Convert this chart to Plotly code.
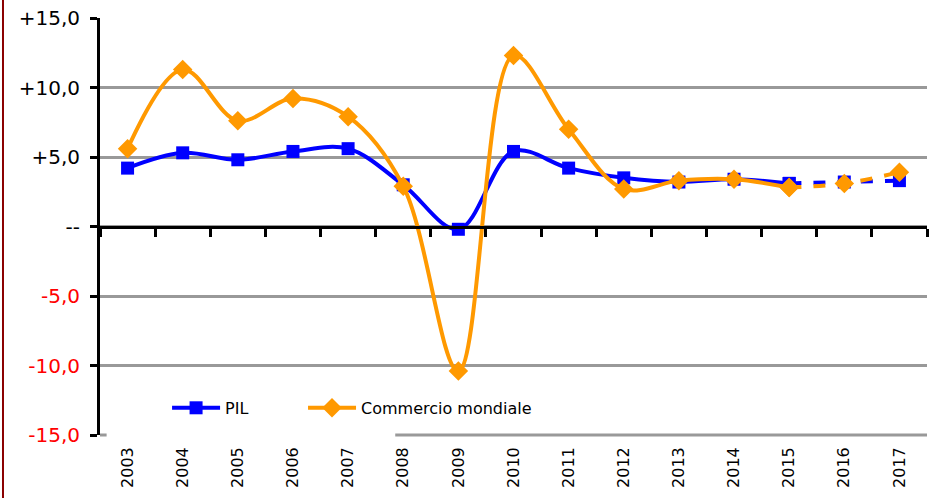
import plotly.graph_objects as go

years = ["2003", "2004", "2005", "2006", "2007", "2008", "2009", "2010",
         "2011", "2012", "2013", "2014", "2015", "2016", "2017"]
pil = [4.2, 5.3, 4.8, 5.4, 5.6, 3.0, -0.2, 5.4, 4.2, 3.5, 3.2, 3.4, 3.1, 3.2, 3.3]
commercio = [5.6, 11.3, 7.6, 9.2, 7.9, 2.9, -10.4, 12.3, 7.0, 2.7, 3.3, 3.4, 2.8, 3.1, 3.9]
ytick_vals = [15, 10, 5, 0, -5, -10, -15]
ytick_text = ["+15,0", "+10,0", "+5,0", "--",
              "<span style='color:#ff0000'>-5,0</span>",
              "<span style='color:#ff0000'>-10,0</span>",
              "<span style='color:#ff0000'>-15,0</span>"]
split = 12  # forecast (dashed) from 2015

BLUE = "#0000ff"
ORANGE = "#ff9900"
FONT = "DejaVu Sans"

fig = go.Figure()

def add_series(vals, name, color, symbol, legend, msize):
    fig.add_trace(go.Scatter(
        x=years[:split + 1], y=vals[:split + 1], name=name, mode="lines+markers",
        line=dict(color=color, width=4, shape="spline", smoothing=1.0),
        marker=dict(symbol=symbol, size=msize, color=color),
        showlegend=True, legend=legend))
    fig.add_trace(go.Scatter(
        x=years[split:], y=vals[split:], name=name, mode="lines+markers",
        line=dict(color=color, width=4, dash="dash", shape="spline", smoothing=1.0),
        marker=dict(symbol=symbol, size=msize, color=color),
        showlegend=False, legend=legend))

add_series(pil, "PIL", BLUE, "square", "legend", 13)
add_series(commercio, "Commercio mondiale", ORANGE, "diamond", "legend2", 15)

# zero-line axis with boundary ticks
fig.add_trace(go.Scatter(x=years, y=[None] * len(years), xaxis="x2",
                         showlegend=False, hoverinfo="skip"))

leg_common = dict(orientation="h", y=0.065, xanchor="left", yanchor="middle",
                  bgcolor="rgba(0,0,0,0)", font=dict(size=16, family=FONT),
                  itemwidth=48)

fig.update_layout(
    width=935, height=498,
    margin=dict(l=100, r=8, t=18, b=63, autoexpand=False),
    paper_bgcolor="white", plot_bgcolor="white",
    font=dict(family=FONT, size=16, color="black"),
    xaxis=dict(type="category", categoryorder="array", categoryarray=years,
               range=[-0.5, 14.5], showgrid=False, showline=False, automargin=False,
               ticks="", tickangle=-90, tickfont=dict(size=16, family=FONT),
               ticklabelstandoff=8, zeroline=False),
    xaxis2=dict(type="category", categoryorder="array", categoryarray=years,
                range=[-0.5, 14.5], overlaying="x", anchor="free", position=0.5,
                showline=True, linecolor="black", linewidth=3, automargin=False,
                ticks="outside", tickson="boundaries", ticklen=8, tickwidth=3,
                tickcolor="black", showticklabels=False, showgrid=False),
    yaxis=dict(range=[-15, 15], tickvals=ytick_vals, ticktext=ytick_text,
               showgrid=True, gridcolor="#999999", gridwidth=3, automargin=False,
               zeroline=False, showline=True, linecolor="black", linewidth=3,
               ticks="outside", ticklen=7, tickwidth=3, tickcolor="black",
               ticklabelstandoff=6, tickfont=dict(size=20, family=FONT)),
    legend=dict(x=0.0811, **leg_common),
    legend2=dict(x=0.2455, **leg_common),
    shapes=[
        # bottom gridline, partly hidden behind the legend box
        dict(type="line", xref="paper", yref="paper", x0=0.357, x1=1.0,
             y0=0, y1=0, line=dict(color="#999999", width=3), layer="above"),
        dict(type="line", xref="paper", yref="paper", x0=0.0, x1=0.008,
             y0=0, y1=0, line=dict(color="#999999", width=3), layer="above"),
        dict(type="line", xref="paper", yref="paper", x0=-0.1173, x1=-0.1173,
             y0=-0.3, y1=1.1, line=dict(color="#8b0000", width=2)),
    ],
)

fig.write_html("out.html", config={"displayModeBar": False},
               post_script="document.body.style.margin='0';")
